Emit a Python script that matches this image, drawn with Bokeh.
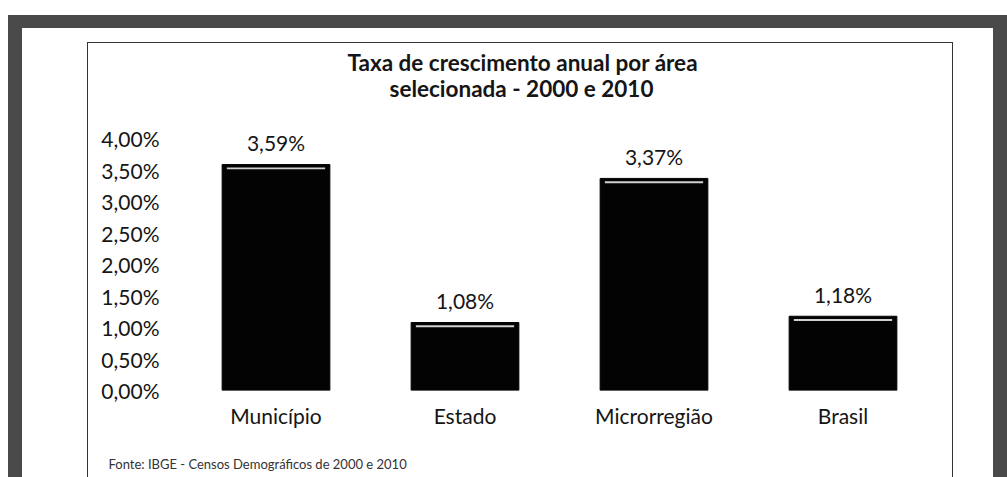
from bokeh.plotting import figure
from bokeh.models import (FactorRange, Range1d, FixedTicker, CustomJSTickFormatter,
                          ColumnDataSource, Title)
from bokeh.embed import file_html
from bokeh.resources import INLINE
from bokeh.core.properties import value

# ---- data ----
categories = ["Município", "Estado", "Microrregião", "Brasil"]
rates = [3.59, 1.08, 3.37, 1.18]
y_ticks = [0.0, 0.5, 1.0, 1.5, 2.0, 2.5, 3.0, 3.5, 4.0]
title_lines = ["Taxa de crescimento anual por área", "selecionada - 2000 e 2010"]
source_note = "Fonte: IBGE - Censos Demográficos de 2000 e 2010"

labels = [f"{v:.2f}".replace(".", ",") + "%" for v in rates]
src = ColumnDataSource(dict(cat=categories, rate=rates, label=labels,
                            hl_top=[r - 0.045 for r in rates],
                            hl_bot=[r - 0.075 for r in rates]))

FONT = "Lato"
TXT = "#151515"
FRAME = "#4a4a4a"
BOX = "#333333"

page_bg = ", ".join([
    f"linear-gradient({FRAME},{FRAME}) 8px 15px / 14px 462px no-repeat",
    f"linear-gradient({FRAME},{FRAME}) 8px 15px / 999px 13px no-repeat",
    f"linear-gradient({FRAME},{FRAME}) 993px 15px / 14px 462px no-repeat",
    f"linear-gradient({BOX},{BOX}) 87px 42px / 1px 435px no-repeat",
    f"linear-gradient({BOX},{BOX}) 952px 42px / 1px 435px no-repeat",
    f"linear-gradient({BOX},{BOX}) 87px 42px / 866px 1px no-repeat",
    "#ffffff",
])

p = figure(x_range=FactorRange(*categories, range_padding=0),
           y_range=Range1d(0, 4.64),
           width=1007, height=477,
           output_backend="svg", toolbar_location=None,
           min_border_left=181, min_border_right=70,
           min_border_top=98, min_border_bottom=87,
           background_fill_color=None, border_fill_color=None,
           styles={"background": page_bg})

p.vbar(x="cat", top="rate", width=0.57, source=src,
       fill_color="#030303", line_color="#030303")
p.vbar(x="cat", top="hl_top", bottom="hl_bot", width=0.52, source=src,
       fill_color="#e8e8e8", line_color=None, fill_alpha=0.9)
p.text(x="cat", y="rate", text="label", source=src, y_offset=-22,
       text_align="center", text_baseline="middle",
       text_font=value(FONT), text_font_size="21px", text_color=TXT)

p.outline_line_color = None
p.xgrid.grid_line_color = None
p.ygrid.grid_line_color = None
for ax in (p.xaxis, p.yaxis):
    ax.axis_line_color = None
    ax.major_tick_line_color = None
    ax.minor_tick_line_color = None
    ax.major_tick_out = 0
    ax.major_tick_in = 0
    ax.minor_tick_out = 0
    ax.major_label_text_font = FONT
    ax.major_label_text_font_size = "21px"
    ax.major_label_text_color = TXT
p.yaxis.ticker = FixedTicker(ticks=y_ticks)
p.yaxis.formatter = CustomJSTickFormatter(code="return tick.toFixed(2).replace('.', ',') + '%';")
p.yaxis.major_label_standoff = 22
p.xaxis.major_label_standoff = 12

# title (second line added first: it sits closest to the plot)
p.add_layout(Title(text=title_lines[1], align="left", offset=208, standoff=-6,
                   text_font=FONT, text_font_style="bold", text_font_size="22.5px",
                   text_color=TXT), "above")
p.add_layout(Title(text=title_lines[0], align="left", offset=166, standoff=0,
                   text_font=FONT, text_font_style="bold", text_font_size="22.5px",
                   text_color=TXT), "above")
# blank spacer between category labels and source note
p.add_layout(Title(text=" ", standoff=8, text_font_size="10px",
                   text_color="#ffffff"), "below")
# source note
p.add_layout(Title(text=source_note, align="left", offset=-73, standoff=4,
                   text_font=FONT, text_font_style="normal", text_font_size="13px",
                   text_color="#333333"), "below")

open("out.html", "w").write(file_html(p, INLINE))
